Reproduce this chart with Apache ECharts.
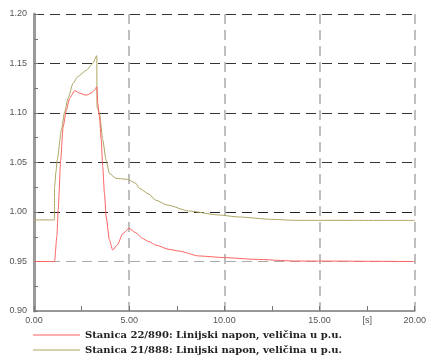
<!DOCTYPE html>
<html><head><meta charset="utf-8">
<script src="https://cdn.jsdelivr.net/npm/echarts@6/dist/echarts.min.js"></script>
<style>html,body{margin:0;padding:0;background:#fff}#c{width:429px;height:356px}</style>
</head><body><div id="c"></div>
<script>
var seriesNames = ['Stanica 22/890: Linijski napon, veličina u p.u.', 'Stanica 21/888: Linijski napon, veličina u p.u.'];
var redT = [0, 1.08, 1.20, 1.27, 1.40, 1.53, 1.70, 1.875, 2.14, 2.40, 2.74, 3.0, 3.18, 3.30, 3.35, 3.44, 3.53, 3.61, 3.70, 3.79, 3.96, 4.13, 4.39, 4.65, 5.0, 5.35, 5.69, 6.04, 6.39, 7.08, 7.60, 8.65, 10.04, 11.6, 13.68, 20];
var redV = [0.95, 0.95, 0.975, 1.002, 1.0525, 1.086, 1.103, 1.115, 1.1226, 1.120, 1.118, 1.120, 1.123, 1.1266, 1.1098, 1.096, 1.073, 1.046, 1.019, 0.995, 0.972, 0.9616, 0.967, 0.978, 0.9835, 0.979, 0.9734, 0.970, 0.9667, 0.9623, 0.9606, 0.9556, 0.9539, 0.9522, 0.9505, 0.95];
var oliveT = [0, 1.07, 1.08, 1.15, 1.22, 1.44, 1.61, 1.79, 2.05, 2.31, 2.74, 3.09, 3.30, 3.31, 3.44, 3.61, 3.79, 3.96, 4.31, 4.91, 5.35, 5.52, 6.04, 6.39, 7.0, 8.13, 9.69, 10.73, 12.46, 13.68, 20];
var oliveV = [0.992, 0.992, 1.025, 1.040, 1.0525, 1.083, 1.101, 1.115, 1.13, 1.137, 1.143, 1.15, 1.158, 1.106, 1.10, 1.073, 1.052, 1.039, 1.034, 1.033, 1.029, 1.024, 1.018, 1.012, 1.007, 1.001, 0.997, 0.995, 0.9926, 0.9916, 0.9915];
var xLabels = {0: '0.00', 5: '5.00', 10: '10.00', 15: '15.00', 17.5: '[s]', 20: '20.00'};
var yTicks = ['0.90', '0.95', '1.00', '1.05', '1.10', '1.15', '1.20'];

function pairs(t, v) { return t.map(function (x, i) { return [x, v[i]]; }); }

var chart = echarts.init(document.getElementById('c'));
var labelFont = {color: '#555', fontSize: 9, fontFamily: 'Liberation Sans Narrow, Liberation Sans, sans-serif'};
var legendText = {fontFamily: 'DejaVu Serif, serif', fontWeight: 'bold', fontSize: 10, color: '#222'};
function legendAt(top, name) {
  return {orient: 'horizontal', left: 33, top: top, padding: 0, icon: 'rect', itemWidth: 47, itemHeight: 1,
    textStyle: legendText, data: [name]};
}
chart.setOption({
  animation: false,
  grid: {left: 34, right: 11, top: 14, bottom: 45, containLabel: false},
  xAxis: [{
    type: 'value', min: 0, max: 20, interval: 2.5,
    axisLine: {show: true, onZero: false, lineStyle: {color: '#777', width: 1.5}},
    axisTick: {show: true, inside: true, length: 5, lineStyle: {color: '#777'}},
    axisLabel: Object.assign({margin: 5, formatter: function (v) { return xLabels[v] !== undefined ? xLabels[v] : ''; }}, labelFont),
    splitLine: {show: false}
  }, {
    type: 'value', min: 0, max: 20, interval: 5, position: 'bottom',
    axisLine: {show: false}, axisTick: {show: false}, axisLabel: {show: false},
    splitLine: {show: true, showMinLine: false, showMaxLine: true, lineStyle: {color: '#aaa', type: [10, 6], width: 1.5}}
  }],
  yAxis: {
    type: 'value', min: 0.90, max: 1.20, interval: 0.05,
    axisLine: {show: true, lineStyle: {color: '#9a9a9a', width: 3}},
    axisTick: {show: true, inside: true, length: 4, lineStyle: {color: '#777'}},
    minorTick: {show: true, splitNumber: 2, length: 4, lineStyle: {color: '#777'}},
    axisLabel: Object.assign({margin: 7, formatter: function (v) { return v.toFixed(2); }}, labelFont),
    splitLine: {show: true, showMinLine: false, lineStyle: {color: ['#aaa', '#222', '#333', '#333', '#333', '#333'], type: [10, 6], width: 1}}
  },
  legend: [legendAt(330, seriesNames[0]), legendAt(345, seriesNames[1])],
  series: [{
    name: seriesNames[0], type: 'line', showSymbol: false, smooth: 0.2, smoothMonotone: 'x',
    lineStyle: {color: '#ff6060', width: 1}, itemStyle: {color: '#ff6060'},
    data: pairs(redT, redV), z: 3
  }, {
    name: seriesNames[1], type: 'line', showSymbol: false, smooth: 0.2, smoothMonotone: 'x',
    lineStyle: {color: '#aaa560', width: 1}, itemStyle: {color: '#aaa560'},
    data: pairs(oliveT, oliveV), z: 2
  }]
});
</script></body></html>
